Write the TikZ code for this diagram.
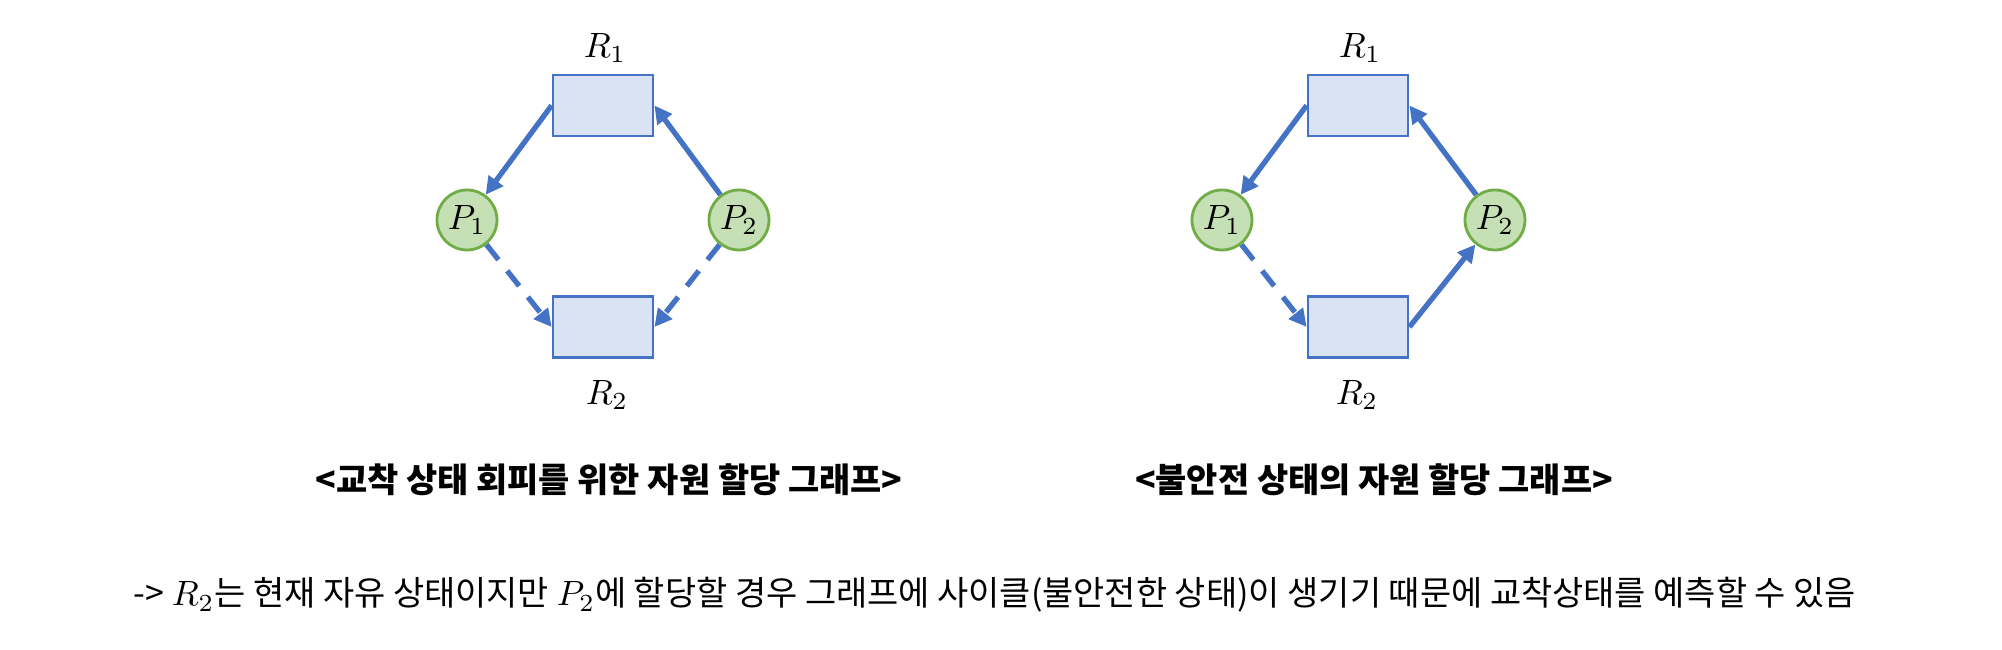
\documentclass[tikz,border=0pt]{standalone}
\usepackage{fontspec}
\newfontfamily\kr{Noto Sans CJK KR}
\usetikzlibrary{arrows.meta,positioning,shapes}
\definecolor{edgeblue}{HTML}{4472C4}
\definecolor{resfill}{HTML}{DAE3F3}
\definecolor{procfill}{HTML}{C5E0B4}
\definecolor{procline}{HTML}{70AD47}

\begin{document}
\begin{tikzpicture}[
  res/.style={draw=edgeblue,fill=resfill,line width=.8pt,minimum width=1cm,minimum height=.61cm,inner sep=0pt},
  proc/.style={draw=procline,fill=procfill,circle,line width=.8pt,minimum size=.6cm,inner sep=0pt,font=\fontsize{10}{12}\selectfont},
  lbl/.style={font=\fontsize{10}{12}\selectfont},
  alloc/.style={-{Triangle[length=5pt,width=5pt]},edgeblue,line width=1.5pt},
  claim/.style={alloc,dash pattern=on 5.5pt off 4pt}]
\useasboundingbox (0,0) rectangle (20.02,6.5);
% left: deadlock avoidance
\node[res] (r1) at (6.03,5.445) {};
\node[res] (r2) at (6.03,3.23) {};
\node[proc] (p1) at (4.67,4.30) {$P_1$};
\node[proc] (p2) at (7.39,4.30) {$P_2$};
\node[lbl] (r1l) at (6.05,6.02) {$R_1$};
\node[lbl] (r2l) at (6.07,2.55) {$R_2$};
\draw[alloc] (r1.west) -- (p1);
\draw[alloc] (p2) -- (r1.east);
\draw[claim] (p1) -- (r2.west);
\draw[claim] (p2) -- (r2.east);
\node[font=\kr\bfseries\fontsize{9.65}{12}\selectfont] (t1) at (6.09,1.70) {<교착 상태 회피를 위한 자원 할당 그래프>};
% right: unsafe state
\node[res] (s1) at (13.58,5.445) {};
\node[res] (s2) at (13.58,3.23) {};
\node[proc] (q1) at (12.22,4.30) {$P_1$};
\node[proc] (q2) at (14.95,4.30) {$P_2$};
\node[lbl] (s1l) at (13.60,6.02) {$R_1$};
\node[lbl] (s2l) at (13.57,2.55) {$R_2$};
\draw[alloc] (s1.west) -- (q1);
\draw[alloc] (q2) -- (s1.east);
\draw[claim] (q1) -- (s2.west);
\draw[alloc] (s2.east) -- (q2);
\node[font=\kr\bfseries\fontsize{9.65}{12}\selectfont] (t2) at (13.74,1.70) {<불안전 상태의 자원 할당 그래프>};
% note
\node[anchor=west,inner sep=0pt,font=\kr\fontsize{9.65}{11}\selectfont] (note) at (1.33,0.55) {-> $R_2$는 현재 자유 상태이지만 $P_2$에 할당할 경우 그래프에 사이클(불안전한 상태)이 생기기 때문에 교착상태를 예측할 수 있음};
\end{tikzpicture}
\end{document}
